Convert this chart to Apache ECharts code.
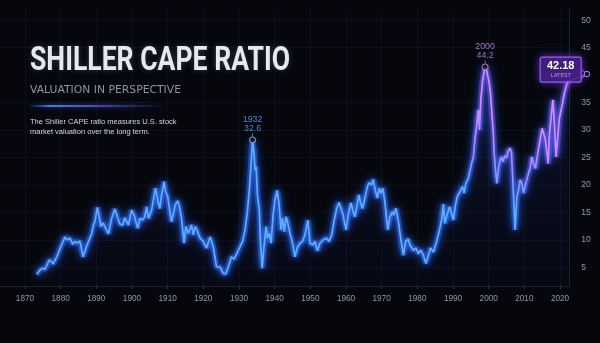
<!DOCTYPE html>
<html><head><meta charset="utf-8">
<script src="https://cdn.jsdelivr.net/npm/echarts@6.0.0/dist/echarts.min.js"></script>
<style>html,body{margin:0;padding:0;background:#05070d;}#c{width:600px;height:343px;}</style>
</head><body><div id="c"></div>
<script>
// ---- data ----
const years = [1873.3,1874.2,1875.0,1875.6,1876.8,1877.5,1877.9,1878.9,1880.3,1881.2,1881.9,1882.6,1883.4,1884.0,1884.8,1885.4,1886.3,1887.1,1888.0,1888.7,1889.2,1889.6,1890.3,1890.8,1891.3,1891.8,1892.4,1893.4,1894.3,1895.2,1895.9,1896.6,1897.4,1898.0,1899.0,1899.9,1900.6,1901.6,1902.2,1902.9,1903.6,1904.1,1904.6,1905.5,1906.6,1907.4,1907.8,1908.3,1909.0,1909.4,1910.0,1910.7,1911.1,1912.1,1912.8,1913.3,1913.9,1914.6,1915.1,1915.8,1916.7,1917.2,1917.7,1918.4,1919.1,1920.0,1920.9,1921.9,1922.8,1923.7,1924.7,1925.6,1926.3,1927.0,1927.9,1928.6,1929.4,1930.1,1931.0,1931.7,1932.3,1932.9,1933.4,1933.8,1934.2,1934.5,1934.8,1935.2,1935.7,1936.0,1936.5,1937.0,1937.6,1938.0,1938.5,1939.0,1939.6,1940.1,1940.7,1941.2,1941.8,1942.2,1942.7,1943.2,1943.6,1944.3,1945.0,1945.7,1946.3,1947.1,1947.8,1948.5,1949.3,1949.9,1950.7,1951.3,1952.0,1952.7,1953.6,1954.6,1955.2,1956.0,1956.7,1957.4,1958.0,1958.6,1959.2,1960.0,1960.6,1961.4,1962.0,1962.5,1963.2,1963.6,1964.1,1964.6,1965.3,1966.0,1966.5,1967.2,1967.6,1968.3,1968.8,1969.3,1969.8,1970.3,1970.9,1971.7,1972.3,1973.0,1973.4,1974.0,1974.7,1975.4,1976.1,1976.7,1977.5,1977.9,1978.9,1979.6,1980.3,1980.9,1981.7,1982.4,1983.1,1983.7,1984.5,1985.4,1986.2,1986.8,1987.3,1987.7,1988.2,1989.0,1989.6,1990.1,1990.6,1991.2,1992.0,1992.7,1993.1,1993.6,1994.3,1994.8,1995.2,1995.7,1996.2,1996.6,1997.1,1997.4,1997.8,1998.2,1998.7,1999.0,1999.4,1999.8,2000.1,2000.5,2000.9,2001.3,2001.5,2001.9,2002.3,2002.8,2003.2,2003.6,2004.0,2004.5,2005.0,2005.4,2006.0,2006.4,2006.9,2007.4,2007.9,2008.4,2008.8,2009.3,2009.8,2010.3,2010.9,2011.7,2012.1,2012.6,2013.1,2013.6,2014.0,2014.5,2015.0,2015.4,2015.9,2016.4,2016.7,2017.0,2017.5,2018.0,2018.4,2018.9,2019.3,2019.8,2020.3,2020.7,2021.2,2021.7,2022.2];
const values = [3.7,4.5,4.8,4.6,6.3,6.0,5.6,6.9,9.1,10.5,10.0,10.3,9.2,9.7,9.4,9.8,6.9,8.5,10.0,11.1,12.7,13.3,15.9,14.2,12.4,13.1,12.4,11.1,13.9,15.6,14.2,12.9,12.7,14.0,12.7,15.4,14.5,12.1,13.9,13.6,14.2,16.0,13.9,15.4,19.4,16.7,15.7,18.2,20.6,18.8,17.9,14.8,13.3,16.3,17.1,16.0,13.9,9.4,12.4,11.2,12.7,10.9,12.4,11.5,10.3,9.7,8.5,10.5,8.7,5.1,5.0,3.9,3.8,5.1,6.9,6.5,7.5,8.5,9.7,11.8,14.8,19.1,23.9,28.2,25.8,22.7,23.3,17.9,15.4,10.0,4.8,8.7,12.4,10.3,11.2,9.4,14.8,17.3,19.0,16.7,11.8,13.9,11.5,14.2,13.3,11.2,9.4,6.9,8.5,9.4,9.7,10.9,13.6,9.4,9.1,9.7,8.0,9.4,10.0,10.3,9.7,10.9,13.6,15.7,16.8,15.7,14.5,11.8,14.5,16.7,15.1,14.2,16.7,18.2,16.7,15.7,17.6,19.7,20.4,20.0,21.0,18.8,17.6,19.4,18.5,19.4,16.9,11.8,14.2,15.1,14.5,15.7,13.3,10.0,7.2,9.7,10.1,9.1,8.1,8.5,7.5,8.1,7.2,5.7,7.2,8.5,7.8,9.7,11.8,13.6,16.5,13.0,14.2,16.0,14.8,13.6,16.0,17.9,18.8,19.7,18.5,20.3,21.2,22.7,23.9,25.1,28.8,30.6,33.7,30.0,35.5,38.5,40.6,41.5,40.9,39.7,38.8,36.7,33.1,29.4,26.1,22.7,20.3,23.3,24.5,25.1,24.2,25.3,24.9,26.1,26.7,25.8,19.1,11.8,17.9,19.1,20.9,20.3,18.5,20.0,21.5,23.3,25.1,23.9,23.0,25.1,26.7,28.5,30.3,29.4,28.2,27.9,23.9,28.8,32.4,35.5,31.5,25.1,28.2,32.1,33.7,34.9,36.7,37.9,38.8];
const xTickYears = [1870,1880,1890,1900,1910,1920,1930,1940,1950,1960,1970,1980,1990,2000,2010,2020];
const yTickValues = [5,10,15,20,25,30,35,45,50];
const peakYears = [1933.8, 1999.0];
const peakYearLabels = ['1932', '2000'];
const peakValueLabels = ['32.6', '44.2'];
const latestValueLabel = '42.18';
const latestCaption = 'LATEST';
const titleText = 'SHILLER CAPE RATIO';
const subtitleText = 'VALUATION IN PERSPECTIVE';
const descLines = ['The Shiller CAPE ratio measures U.S. stock', 'market valuation over the long term.'];

// ---- build ----
const lineData = years.map((y, i) => [y, values[i]]);
const peakColors = ['#5aa8ff', '#c98cf5'];
const peakBorders = ['#c3cad8', '#cfa8ee'];
const peakData = peakYears.map((y, i) => ({
  value: [y, values[years.indexOf(y)]],
  itemStyle: { color: '#0a0c16', borderColor: peakBorders[i], borderWidth: 1 },
  label: { color: peakColors[i] }
}));

function grad(stops) {
  return { type: 'linear', x: 500, y: 200, x2: 532, y2: 136, global: true, colorStops: stops };
}

const chart = echarts.init(document.getElementById('c'), null, { renderer: 'canvas' });
const narrow = '"Liberation Sans Narrow", "Liberation Sans", sans-serif';

chart.setOption({
  backgroundColor: '#05070d',
  animation: false,
  grid: { left: 0, right: 30.7, top: 9.3, bottom: 57 },
  xAxis: {
    type: 'value', min: 1863, max: 2022.6,
    axisLine: { show: true, lineStyle: { color: '#1c2232', width: 1 } },
    axisTick: { show: true, customValues: xTickYears, length: 3, lineStyle: { color: '#2a3246' } },
    axisLabel: { customValues: xTickYears, color: '#8f98aa', fontFamily: narrow, fontSize: 8.2, margin: 9,
      formatter: v => String(Math.round(v)) },
    splitLine: { show: true, lineStyle: { color: 'rgba(110,130,175,0.07)' } }
  },
  yAxis: {
    type: 'value', position: 'right', min: 1.585, max: 52,
    axisLine: { show: true, lineStyle: { color: '#1c2232' } },
    axisTick: { show: false, customValues: yTickValues },
    axisLabel: { customValues: yTickValues, color: '#8f98aa', fontFamily: narrow, fontSize: 8.6, margin: 12,
      formatter: v => String(Math.round(v)) },
    splitLine: { show: true, lineStyle: { color: 'rgba(110,130,175,0.07)' } }
  },
  series: [
    {
      type: 'line', data: lineData, showSymbol: false, silent: true, z: 2,
      lineStyle: { width: 6, opacity: 0.45, shadowBlur: 10, shadowColor: 'rgba(40,90,255,0.9)',
        color: grad([{ offset: 0, color: '#1f6dff' }, { offset: 0.45, color: '#5a52ff' }, { offset: 1, color: '#9d45ff' }]) },
      areaStyle: { shadowBlur: 0, color: { type: 'linear', x: 0, y: 0, x2: 0, y2: 1, colorStops: [
        { offset: 0, color: 'rgba(40,65,210,0.22)' }, { offset: 1, color: 'rgba(20,35,110,0.10)' }] } }
    },
    {
      type: 'line', data: lineData, showSymbol: false, silent: true, z: 3,
      lineStyle: { width: 1.7, shadowBlur: 6, shadowColor: 'rgba(60,120,255,1)',
        color: grad([{ offset: 0, color: '#62acff' }, { offset: 0.45, color: '#9a8cff' }, { offset: 1, color: '#cf8dff' }]) }
    },
    {
      type: 'scatter', data: peakData, symbol: 'circle', symbolSize: 6, z: 5, silent: true,
      label: { show: true, position: 'top', distance: 4, fontFamily: narrow, fontSize: 8.8, lineHeight: 8.6,
        formatter: p => peakYearLabels[p.dataIndex] + '\n' + peakValueLabels[p.dataIndex] }
    }
  ]
});

// ---- text & annotations ----
const cvs = document.createElement('canvas').getContext('2d');
function fitScale(font, text, target) { cvs.font = font; return target / cvs.measureText(text).width; }

const titleFont = 'bold 33.5px Roboto';
const subFont = '9.8px "DejaVu Sans"';
const descFont = '7.8px "Liberation Sans"';
const descScale = fitScale(descFont, descLines[0], 146.6);

const lastIdx = years.length - 1;
const end = chart.convertToPixel({ gridIndex: 0 }, [years[lastIdx], values[lastIdx]]);
const pk = peakYears.map(y => chart.convertToPixel({ gridIndex: 0 }, [y, values[years.indexOf(y)]]));
const circ = [end[0] + 19, end[1] - 7.7];
const box = { x: end[0] - 27.7, y: end[1] - 24.7, width: 41, height: 25 };

const graphics = [
  { type: 'text', x: 30, y: 62, scaleX: fitScale(titleFont, titleText, 260), z: 10,
    style: { text: titleText, font: titleFont, verticalAlign: 'middle', align: 'left',
      fill: '#e6e9ee', textShadowBlur: 6, textShadowColor: 'rgba(200,210,230,0.25)' } },
  { type: 'text', x: 30, y: 90.8, scaleX: fitScale(subFont, subtitleText, 151), z: 10,
    style: { text: subtitleText, font: subFont, verticalAlign: 'middle', align: 'left', fill: '#8c95a7' } },
  { type: 'rect', z: 10, shape: { x: 30, y: 105.3, width: 135, height: 1.4 },
    style: { shadowBlur: 4, shadowColor: 'rgba(60,110,255,0.8)',
      fill: new echarts.graphic.LinearGradient(0, 0, 1, 0, [
        { offset: 0, color: 'rgba(40,90,255,0.2)' }, { offset: 0.15, color: '#5aa0ff' },
        { offset: 0.5, color: '#6a4cd8' }, { offset: 1, color: 'rgba(90,60,200,0)' }]) } },
  { type: 'text', x: 30, y: 122, scaleX: descScale, z: 10,
    style: { text: descLines[0], font: descFont, verticalAlign: 'middle', fill: '#d4d8e0' } },
  { type: 'text', x: 30, y: 132.3, scaleX: descScale, z: 10,
    style: { text: descLines[1], font: descFont, verticalAlign: 'middle', fill: '#d4d8e0' } },
  ...pk.map((p, i) => ({ type: 'line', z: 6, shape: { x1: p[0], y1: p[1] - 6.5, x2: p[0], y2: p[1] - 3.5 },
    style: { stroke: peakBorders[i], lineWidth: 0.8, opacity: 0.7 } })),
  { type: 'polyline', z: 7, shape: { points: [[end[0], end[1]], circ] }, style: { stroke: '#a46cff', lineWidth: 1, fill: null } },
  { type: 'polyline', z: 7, shape: { points: [[box.x + box.width, circ[1] - 5], circ, [box.x + box.width, circ[1] + 5]] },
    style: { stroke: '#a46cff', lineWidth: 1, fill: null } },
  { type: 'circle', z: 8, shape: { cx: circ[0], cy: circ[1], r: 2.8 }, style: { fill: '#0b0a18', stroke: '#b98cff', lineWidth: 1 } },
  { type: 'rect', z: 8, shape: { x: box.x, y: box.y, width: box.width, height: box.height, r: 2 },
    style: { fill: 'rgba(60,25,120,0.7)', stroke: '#9b5cff', lineWidth: 1.2, shadowBlur: 8, shadowColor: 'rgba(150,80,255,0.7)' } },
  { type: 'text', z: 9, x: box.x + box.width / 2, y: box.y + 9,
    style: { text: latestValueLabel, font: 'bold 11px "Liberation Sans"', align: 'center', verticalAlign: 'middle', fill: '#ffffff' } },
  { type: 'text', z: 9, x: box.x + box.width / 2, y: box.y + 18.8,
    style: { text: latestCaption, font: '5.6px "DejaVu Sans"', align: 'center', verticalAlign: 'middle', fill: '#b48cf2' } },
  { type: 'circle', z: 6, shape: { cx: end[0], cy: end[1], r: 1.6 }, style: { fill: '#c8a0ff' } }
];
chart.setOption({ graphic: graphics });
</script></body></html>
